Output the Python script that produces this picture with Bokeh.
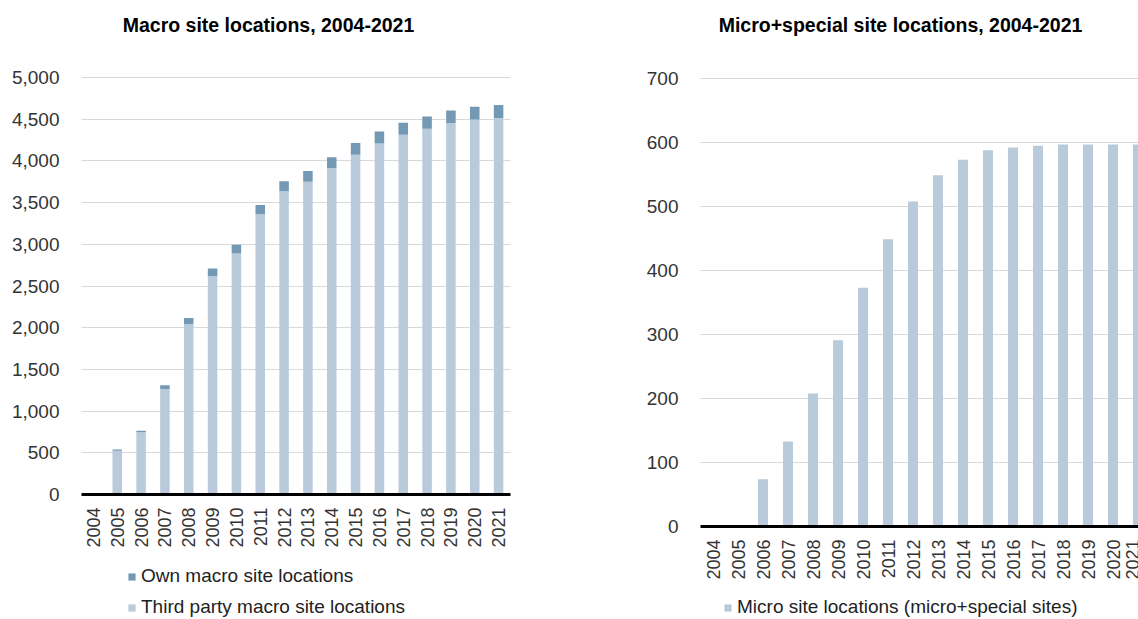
import numpy as np
from bokeh.plotting import figure
from bokeh.layouts import row
from bokeh.models import (ColumnDataSource, Range1d, FixedTicker, NumeralTickFormatter,
                          Label, Legend, LegendItem, Grid)
from bokeh.embed import file_html
from bokeh.resources import INLINE

# ---- data -------------------------------------------------------------
years = ["2004", "2005", "2006", "2007", "2008", "2009", "2010", "2011", "2012",
         "2013", "2014", "2015", "2016", "2017", "2018", "2019", "2020", "2021"]
third_party_macro = [0, 525, 745, 1265, 2045, 2620, 2890, 3360, 3635,
                     3750, 3915, 4075, 4210, 4315, 4385, 4455, 4495, 4515]
own_macro = [0, 15, 20, 45, 70, 90, 105, 110, 120,
             130, 128, 140, 143, 143, 148, 150, 155, 155]
micro_sites = [0, 0, 74, 133, 208, 291, 373, 449, 508,
               549, 573, 588, 592, 595, 597, 597, 597, 597]
macro_ticks = [0, 500, 1000, 1500, 2000, 2500, 3000, 3500, 4000, 4500, 5000]
micro_ticks = [0, 100, 200, 300, 400, 500, 600, 700]

LIGHT = "#b9cbda"
DARK = "#7399b5"
FONT = "Liberation Sans"
TICK_COLOR = "#333333"
HEIGHT = 619

xpos = list(range(len(years)))
src = ColumnDataSource(dict(x=xpos, year=years, third=third_party_macro,
                            own=own_macro, micro=micro_sites))
N = len(years)
HAS_CROSS = "cross_bounds" in Grid.properties()


def make_fig(width, left, right, top, bottom, ymax):
    """Figure whose frame fills the canvas; the chart area sits at the
    given pixel box, so the axes are pinned inside the frame."""
    ux = (right - left) / N
    x0 = -0.5 - left / ux
    x1 = -0.5 + (width - left) / ux
    uy = (bottom - top) / ymax
    y0 = -(HEIGHT - bottom) / uy
    y1 = bottom / uy
    p = figure(width=width, height=HEIGHT, output_backend="svg", toolbar_location=None,
               x_range=Range1d(x0, x1), y_range=Range1d(y0, y1),
               min_border=0, min_border_left=0, min_border_right=0,
               min_border_top=0, min_border_bottom=0)
    p.outline_line_color = None
    return p


def style(p, y_ticks):
    p.xgrid.grid_line_color = None
    p.ygrid.grid_line_color = "#d9d9d9"
    p.ygrid.grid_line_width = 1
    p.ygrid.ticker = FixedTicker(ticks=y_ticks)
    if HAS_CROSS:
        p.ygrid.cross_bounds = (-0.5, N - 0.5)
    p.yaxis.fixed_location = -0.5
    p.yaxis.bounds = (y_ticks[0], y_ticks[-1])
    p.yaxis.ticker = FixedTicker(ticks=y_ticks)
    p.yaxis.formatter = NumeralTickFormatter(format="0,0")
    p.yaxis.axis_line_color = None
    p.yaxis.major_tick_line_color = None
    p.yaxis.minor_tick_line_color = None
    p.yaxis.major_label_text_font = FONT
    p.yaxis.major_label_text_font_size = "19px"
    p.yaxis.major_label_text_color = TICK_COLOR
    p.yaxis.major_label_standoff = 16
    p.xaxis.fixed_location = 0
    p.xaxis.bounds = (-0.5, N - 0.5)
    p.xaxis.ticker = FixedTicker(ticks=xpos)
    p.xaxis.major_label_overrides = {i: y for i, y in enumerate(years)}
    p.xaxis.major_label_orientation = np.pi / 2
    p.xaxis.axis_line_color = "black"
    p.xaxis.axis_line_width = 3
    p.xaxis.major_tick_line_color = None
    p.xaxis.minor_tick_line_color = None
    p.xaxis.major_label_text_font = FONT
    p.xaxis.major_label_text_font_size = "18px"
    p.xaxis.major_label_text_color = TICK_COLOR
    p.xaxis.major_label_standoff = 7


def add_title(p, text, cx, baseline):
    p.add_layout(Label(x=cx, y=HEIGHT - baseline, x_units="screen", y_units="screen",
                       text=text, text_align="center", text_baseline="alphabetic",
                       text_font=FONT, text_font_size="19.5px", text_font_style="bold",
                       text_color="black"))


def add_legend(p, items, x, y):
    lg = Legend(items=items, location=(x, y), orientation="vertical",
                glyph_width=9, glyph_height=9, label_standoff=5, spacing=9,
                padding=0, margin=0, border_line_color=None,
                background_fill_alpha=0, label_text_font=FONT,
                label_text_font_size="19px", label_text_color="#222222")
    p.add_layout(lg)


# ---- left: macro sites (stacked) -------------------------------------
p1 = make_fig(640, 81, 510, 77, 494, 5000)
r_stack = p1.vbar_stack(["third", "own"], x="x", width=0.4, color=[LIGHT, DARK],
                        line_color=None, source=src)
style(p1, macro_ticks)
add_title(p1, "Macro site locations, 2004-2021", 268, 24)
add_legend(p1, [LegendItem(label="Own macro site locations", renderers=[r_stack[1]]),
                LegendItem(label="Third party macro site locations", renderers=[r_stack[0]])],
           127, 1)

# ---- right: micro + special sites ------------------------------------
p2 = make_fig(498, 60, 510, 78, 526, 700)
r_micro = p2.vbar(x="x", top="micro", width=0.4, color=LIGHT, line_color=None, source=src)
style(p2, micro_ticks)
add_title(p2, "Micro+special site locations, 2004-2021", 260, 24)
add_legend(p2, [LegendItem(label="Micro site locations (micro+special sites)",
                           renderers=[r_micro])], 83, 1)

layout = row(p1, p2, spacing=0)
open("out.html", "w").write(file_html(layout, INLINE))
